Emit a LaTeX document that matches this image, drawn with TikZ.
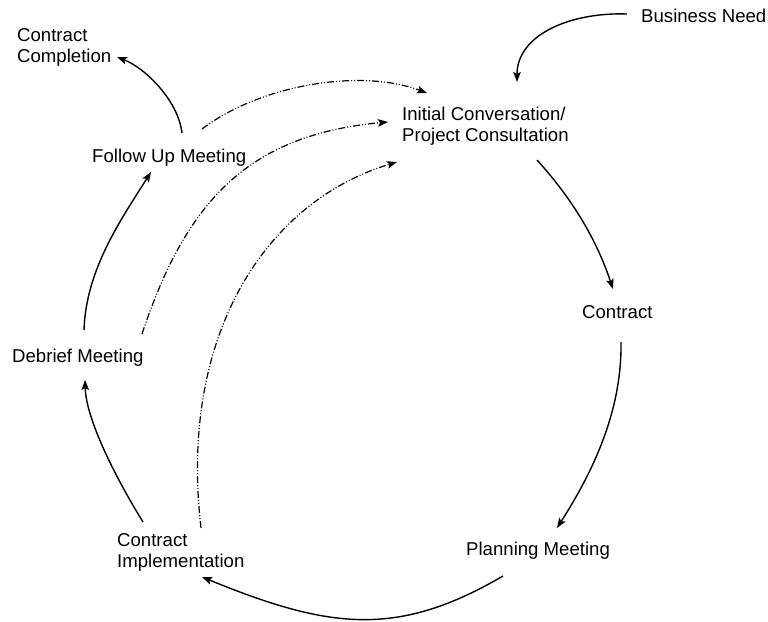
\documentclass[tikz,border=0pt]{standalone}
\usepackage{fontspec}
\setmainfont{Liberation Sans}
\usetikzlibrary{arrows.meta,calc}
\tikzset{
  lbl/.style={inner sep=0pt, font=\fontsize{18.6}{21}\selectfont, align=left},
  flow/.style={line width=1.4pt, -{Stealth[length=10pt,width=7.5pt,inset=2pt]}},
  back/.style={line width=1.2pt, dash pattern=on 7pt off 2pt on 1pt off 2pt on 1pt off 2pt, -{Stealth[length=10pt,width=7.5pt,inset=2pt]}}
}
\begin{document}
\begin{tikzpicture}[x=1pt,y=-1pt]
\useasboundingbox (0,0) rectangle (768,621);
\fill[white] (0,0) rectangle (768,621);
% nodes
\node[lbl, anchor=base west] (bn) at (641,23) {Business Need};
\node[lbl, anchor=north west] (ic) at (402,106.5) {Initial Conversation/\\Project Consultation};
\node[lbl, anchor=base west] (ct) at (582,318) {Contract};
\node[lbl, anchor=base west] (pm) at (466,555) {Planning Meeting};
\node[lbl, anchor=north west] (ci) at (117,533.5) {Contract\\Implementation};
\node[lbl, anchor=base west] (dm) at (12,362) {Debrief Meeting};
\node[lbl, anchor=base west] (fu) at (92,162) {Follow Up Meeting};
\node[lbl, anchor=north west] (cc) at (17,28.5) {Contract\\Completion};
% main cycle
\draw[flow] ($(bn.base west)+(-14,-9)$) .. controls +(-57,-2) and +(0,-47) .. ($(ic.north west)+(115,-24.5)$);
\draw[flow] ($(ic.north west)+(135,53.5)$) .. controls +(29,32) and +(-19,-57) .. ($(ct.base west)+(31,-29)$);
\draw[flow] ($(ct.base west)+(39,24)$) .. controls +(1,68) and +(37,-58) .. ($(pm.base west)+(91,-27)$);
\draw[flow] ($(pm.base west)+(37,21)$) .. controls +(-106,62) and +(127,52) .. ($(ci.north west)+(85,43.5)$);
\draw[flow] ($(ci.north west)+(26,-11.5)$) .. controls +(-26,-42) and +(1,40) .. ($(dm.base west)+(73,18)$);
\draw[flow] ($(dm.base west)+(72,-32)$) .. controls +(2,-60) and +(-31,49) .. ($(fu.base west)+(59,10)$);
\draw[flow] ($(fu.base west)+(90,-29)$) .. controls +(-4,-33) and +(28,11) .. ($(cc.north west)+(100,28.5)$);
% feedback
\draw[back] ($(fu.base west)+(110,-33)$) .. controls +(58,-44) and +(-67,-25) .. ($(ic.north west)+(25,-13.5)$);
\draw[back] ($(dm.base west)+(130,-28)$) .. controls +(43,-129) and +(-143,13) .. ($(ic.north west)+(-14,15.5)$);
\draw[back] ($(ci.north west)+(84,-5.5)$) .. controls +(-23,-198) and +(-127,38) .. ($(ic.north west)+(-5,55.5)$);
\end{tikzpicture}
\end{document}
